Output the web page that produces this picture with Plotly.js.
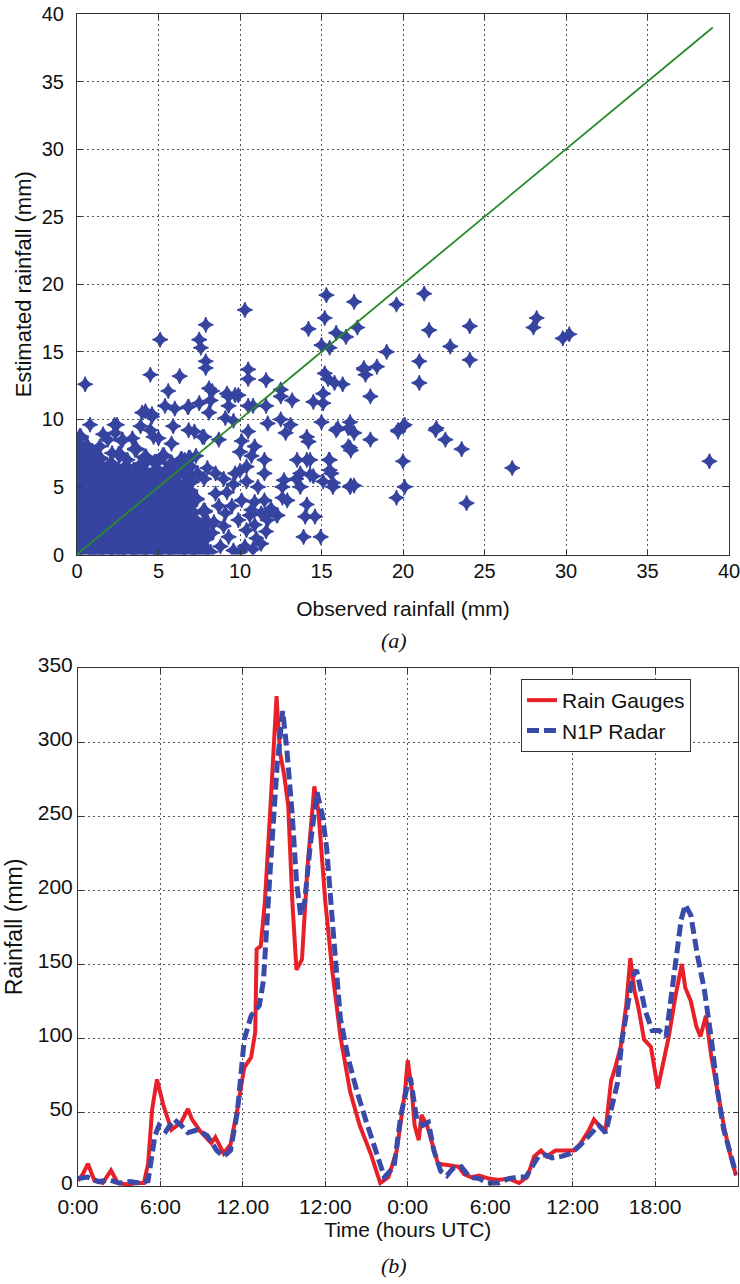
<!DOCTYPE html>
<html>
<head>
<meta charset="utf-8">
<script src="https://cdn.plot.ly/plotly-3.0.1.min.js"></script>
<style>html,body{margin:0;padding:0;background:#fff;}#chart{width:740px;height:1284px;}</style>
</head>
<body>
<div id="chart"></div>
<script>
// ---------- Panel (a): scatter, observed vs estimated rainfall (mm) ----------
// dense cluster near the origin (read row by row from the solid blob)
const clusterObs = [
  0.1,0.5,0.9,1.4,1.8,2.3,2.7,3.2,3.6,4.1,4.5,5.0,5.4,5.9,6.4,6.9,7.4,7.9,
  0.2,0.6,1.1,1.5,2.0,2.4,2.9,3.3,3.8,4.3,4.7,5.2,5.6,6.1,6.6,7.0,7.6,
  0.1,0.5,1.0,1.4,1.9,2.3,2.8,3.2,3.7,4.1,4.6,5.0,5.5,5.9,6.4,6.8,7.3,7.9,
  0.2,0.7,1.1,1.6,2.0,2.5,2.9,3.4,3.9,4.3,4.8,5.2,5.7,6.1,6.6,7.1,7.5,
  0.1,0.5,1.0,1.4,1.9,2.4,2.8,3.3,3.7,4.2,4.6,5.1,5.5,6.0,6.4,6.9,7.4,8.0,
  0.2,0.6,1.1,1.6,2.0,2.5,2.9,3.4,3.8,4.3,4.8,5.2,5.7,6.2,6.7,7.2,
  0.1,0.5,1.0,1.5,1.9,2.4,2.8,3.3,3.7,4.2,4.7,5.1,5.6,6.0,6.5,7.1,7.8,
  0.2,0.7,1.1,1.6,2.1,2.5,3.0,3.4,3.9,4.4,4.8,5.3,5.8,6.3,6.9,
  0.1,0.5,1.0,1.4,1.9,2.3,2.8,3.2,3.7,4.2,4.6,5.1,5.5,6.0,6.6,7.3,
  0.2,0.6,1.1,1.6,2.0,2.5,3.0,3.4,3.9,4.4,4.9,5.3,5.8,6.3,6.9,
  0.1,0.5,1.0,1.4,1.9,2.3,2.8,3.3,3.7,4.2,4.7,5.1,5.6,6.1,6.6,7.0,
  0.2,0.6,1.1,1.5,2.0,2.5,2.9,3.5,4.0,4.5,5.0,5.6,6.2,6.7,
  0.1,0.5,1.0,1.6,2.2,2.8,3.5,4.2,4.9,5.5,6.1,6.6,
  0.2,0.7,1.3,2.1,3.0,3.9,4.8,5.8,6.4,
  0.1,0.6,1.4,2.6,4.2,5.3,6.9,
  0.2,0.9,3.6,
  0.1,0.6,
  0.2
];
const clusterEst = [
  0.2,0.1,0.3,0.2,0.1,0.2,0.3,0.1,0.2,0.3,0.1,0.2,0.1,0.3,0.2,0.1,0.2,0.3,
  0.7,0.8,0.6,0.7,0.8,0.7,0.6,0.8,0.7,0.6,0.8,0.7,0.6,0.8,0.7,0.6,0.7,
  1.2,1.3,1.1,1.2,1.3,1.2,1.1,1.3,1.2,1.1,1.2,1.3,1.2,1.1,1.3,1.2,1.1,1.2,
  1.7,1.8,1.6,1.7,1.8,1.7,1.6,1.8,1.7,1.6,1.8,1.7,1.6,1.8,1.7,1.6,1.8,
  2.2,2.3,2.1,2.2,2.3,2.2,2.1,2.3,2.2,2.1,2.3,2.2,2.1,2.3,2.2,2.1,2.2,2.3,
  2.7,2.8,2.6,2.7,2.8,2.7,2.6,2.8,2.7,2.6,2.8,2.7,2.6,2.8,2.7,2.6,
  3.2,3.3,3.1,3.2,3.3,3.2,3.1,3.3,3.2,3.1,3.3,3.2,3.1,3.3,3.2,3.1,3.2,
  3.7,3.8,3.6,3.7,3.8,3.7,3.6,3.8,3.7,3.6,3.8,3.7,3.6,3.8,3.7,
  4.2,4.3,4.1,4.2,4.3,4.2,4.1,4.3,4.2,4.1,4.3,4.2,4.1,4.3,4.2,4.1,
  4.7,4.8,4.6,4.7,4.8,4.7,4.6,4.8,4.7,4.6,4.8,4.7,4.6,4.8,4.7,
  5.2,5.3,5.1,5.2,5.3,5.2,5.1,5.3,5.2,5.1,5.3,5.2,5.1,5.3,5.2,5.4,
  5.7,5.8,5.6,5.7,5.8,5.7,5.6,5.8,5.7,5.6,5.8,5.7,5.9,6.0,
  6.2,6.3,6.1,6.2,6.3,6.0,6.2,6.1,6.3,6.2,6.4,6.5,
  6.7,6.8,6.6,6.7,6.5,6.6,6.8,6.7,7.0,
  7.2,7.3,7.1,7.4,7.2,7.3,7.1,
  7.7,7.6,7.8,
  8.1,8.0,
  8.7
];
// scattered points outside the dense blob
const scatterObs = [
  0.5,5.1,7.9,7.5,7.6,7.9,7.9,4.5,6.3,5.6,8.1,10.3,9.2,9.7,4.0,4.6,5.4,6.0,6.8,7.5,9.1,9.6,10.5,
  0.8,0.15,2.3,1.6,1.9,2.8,3.9,4.5,4.7,5.9,7.2,7.7,8.7,10.5,10.1,10.0,10.9,11.5,10.7,10.4,9.7,11.5,12.7,12.6,
  8.2,9.9,9.3,10.8,11.6,10.5,10.5,11.6,12.5,12.5,13.2,11.7,12.5,13.1,12.8,14.1,14.2,15.0,15.9,16.75,17.0,16.75,18.0,
  19.7,20.1,20.0,20.1,19.6,22.0,15.5,15.5,13.5,14.1,13.7,14.5,15.1,15.7,16.75,17.0,13.7,12.6,14.1,14.0,14.6,13.9,14.95,11.6,12.25,
  15.3,17.0,21.3,19.6,14.2,15.2,15.9,16.5,17.2,21.6,15.0,15.5,19.0,21.0,21.0,17.6,18.4,17.7,15.2,15.4,15.8,16.3,18.0,15.1,15.1,14.5,
  28.2,28.0,29.8,30.2,24.1,22.9,24.1,22.05,22.6,23.6,23.9,26.7,38.8,20.0,19.7,17.6,
  10.0,10.4,10.1,10.7,9.9,10.4,10.3,11.1,11.5,11.3,11.7,12.3,8.5,9.1,8.3,9.3,8.8,9.5,8.5,8.4,8.7,9.2,9.6,9.0,8.2,9.6,10.0,9.0,10.9,11.0,
  12.9,13.45,14.3,14.3,15.45,15.6,15.7,16.8,16.0,16.65,16.65,16.8,
  6.6,7.0,7.4,7.8,7.3,8.0,6.9,10.8,11.3,11.6,10.6,11.9,10.9,
  4.2,4.6,6.85,8.3,8.1,9.3,2.45,3.4,5.0,5.8,6.85,7.8,1.4,2.15,3.1,4.0,2.76,2.35
];
const scatterEst = [
  12.6,15.9,17.0,15.9,15.3,14.3,13.8,13.3,13.2,12.1,12.3,18.1,11.9,11.8,10.5,10.4,11.0,10.8,10.9,11.2,10.1,9.9,11.0,
  9.6,8.7,9.6,8.9,8.5,8.5,9.5,9.2,8.7,9.5,9.1,8.7,8.5,9.1,8.4,7.6,8.0,7.0,7.3,6.5,6.0,6.0,5.5,5.0,
  11.4,11.8,11.0,11.0,11.0,13.7,13.0,12.9,12.2,11.7,11.4,9.7,10.0,9.6,9.0,8.7,8.35,9.8,9.2,9.8,9.0,7.9,8.5,
  9.2,9.6,6.9,5.0,4.2,9.2,7.0,6.25,7.0,7.0,6.0,5.8,5.4,5.0,5.0,5.1,5.0,4.2,3.7,2.8,2.8,1.3,1.3,2.9,2.9,
  19.2,18.7,19.3,18.5,16.7,17.5,16.4,16.1,16.8,16.6,15.5,15.3,15.0,14.3,12.7,13.8,13.9,13.3,13.4,13.0,12.7,12.6,11.7,11.9,11.2,11.3,
  17.5,16.8,16.0,16.3,16.9,15.4,14.4,9.35,8.5,7.8,3.8,6.4,6.9,9.5,9.1,13.7,
  6.2,5.4,4.0,3.3,2.55,1.8,0.6,5.0,4.0,3.05,2.55,2.9,4.5,3.05,1.6,1.3,0.6,3.6,6.0,2.4,3.6,4.6,5.2,5.6,0.2,0.3,0.2,2.1,2.2,1.2,
  4.0,5.6,7.0,5.9,7.0,6.0,5.3,5.1,9.35,9.35,8.0,7.7,
  7.0,6.5,6.0,5.6,7.3,6.4,5.8,0.4,0.8,1.7,2.9,3.4,3.9,
  10.6,10.2,10.95,12.1,10.5,11.7,9.6,8.6,8.6,8.2,9.2,8.7,8.0,7.5,7.0,6.75,8.4,9.0
];
// 1:1 reference line
const lineObs = [0, 39];
const lineEst = [0, 39];

// ---------- Panel (b): time series of rainfall (mm) ----------
const xTickVals = [0, 6, 12, 18, 24, 30, 36, 42];
const xTickText = ['0:00', '6:00', '12.00', '12:00', '0:00', '6:00', '12:00', '18:00'];

const gaugeHours = [
  0,0.35,0.72,1.2,1.8,2.4,2.9,3.6,4.3,4.8,
  5.1,5.4,5.75,6.2,6.8,7.5,8.0,8.3,8.9,9.7,
  10.0,10.6,11.1,11.6,12.1,12.6,12.9,13.0,13.3,13.6,
  14.0,14.45,14.7,15.0,15.3,15.6,15.9,16.3,16.7,17.2,
  17.5,18.0,18.5,19.1,19.8,20.5,21.3,22.0,22.6,23.2,
  23.8,24.0,24.3,24.5,24.8,25.0,25.4,25.75,26.2,27.0,
  27.7,28.1,28.6,29.2,29.9,30.6,31.35,32.1,32.7,33.2,
  33.7,34.1,34.75,35.5,36.1,36.6,37.2,37.55,37.9,38.4,
  38.8,39.1,39.5,39.9,40.2,40.5,40.8,41.2,41.7,42.2,
  42.5,43.0,43.5,43.95,44.2,44.6,45.0,45.3,45.7,46.1,
  46.55,47.0,47.5,47.9
];
const gaugeRain = [
  3.5,8,15,3.5,2,10.5,2,1,2,2,
  15,52,72,55,38,43,52,45,37,29,
  33,22,28,52,80,87,104,160,162,192,
  255,331,293,278,257,192,146,153,215,270,
  253,192,146,101,64,41,22,2,6,24,
  64,85,64,41,31,48,41,29,15,14,
  13,8,6,7,5,4,5,2,6,20,
  24,20,24,24,24,29,38,45,41,38,
  71,80,94,122,154,132,120,99,94,66,
  80,101,129,150,134,125,108,101,115,87,
  64,41,20,7
];
const radarHours = [
  0,0.7,1.5,2.3,3.0,3.8,4.5,5.1,5.6,5.9,
  6.4,7.0,7.5,8.0,8.7,9.4,10.1,10.6,11.1,11.6,
  12.1,12.6,13.2,13.5,14.0,14.5,14.9,15.2,15.6,15.9,
  16.2,16.5,16.9,17.4,17.8,18.1,18.6,19.1,19.7,20.3,
  21.0,21.7,22.3,23.0,23.5,24.0,24.2,24.65,25.1,25.5,
  25.9,26.4,26.85,27.3,27.9,28.5,29.2,29.8,30.6,31.35,
  31.95,32.6,33.05,33.5,34.0,34.5,35.2,35.85,36.5,36.9,
  37.4,37.9,38.4,38.9,39.25,39.6,40.0,40.35,40.65,41.0,
  41.3,41.8,42.3,42.8,43.1,43.5,43.9,44.2,44.6,45.1,
  45.6,46.1,46.55,47.0,47.5,47.9
];
const radarRain = [
  5,6,3,4,2,3,2,3.5,34,41,
  37,45,41,36,38,34,24,20,24,50,
  99,115,122,139,215,285,321,295,250,206,
  183,192,230,266,250,228,169,113,85,64,
  43,22,6,13,48,69,73,45,41,43,
  24,10,7,12,13,6,5,2,2,5,
  6,6,13,20,21,19,20,22,27,31,
  36,41,36,55,69,99,122,141,146,132,
  118,105,105,101,122,155,180,190,183,155,
  132,99,64,38,20,8
];

// ---------- layout geometry (pixels) ----------
const W = 740, H = 1284;
const A = {l: 77, r: 729, t: 14, b: 554.5};
const B = {l: 78, r: 737.5, t: 668, b: 1186};
const px = v => v / W, py = v => 1 - v / H;

const markerBlue = '#3644a0';
const clusterMarker = {symbol: 'star-diamond', size: 12, color: markerBlue, line: {color: markerBlue, width: 2.5}};
const starMarker = {symbol: 'star-diamond', size: 11, color: markerBlue, line: {color: markerBlue, width: 1.2}};

const traces = [
  {x: clusterObs, y: clusterEst, type: 'scatter', mode: 'markers', marker: clusterMarker, xaxis: 'x', yaxis: 'y', showlegend: false, hoverinfo: 'skip'},
  {x: scatterObs, y: scatterEst, type: 'scatter', mode: 'markers', marker: starMarker, xaxis: 'x', yaxis: 'y', showlegend: false, hoverinfo: 'skip'},
  {x: lineObs, y: lineEst, type: 'scatter', mode: 'lines', line: {color: '#2a8a2a', width: 1.8}, xaxis: 'x', yaxis: 'y', showlegend: false},
  {x: gaugeHours, y: gaugeRain, type: 'scatter', mode: 'lines', name: 'Rain Gauges', line: {color: '#e8202a', width: 4}, xaxis: 'x2', yaxis: 'y2'},
  {x: radarHours, y: radarRain, type: 'scatter', mode: 'lines', name: 'N1P Radar', line: {color: '#3a4aa8', width: 5, dash: '12px,5px'}, xaxis: 'x2', yaxis: 'y2'}
];

const axisCommon = {
  showline: true, linecolor: '#333', linewidth: 1, mirror: 'ticks',
  ticks: 'inside', ticklen: 5, tickcolor: '#333',
  showgrid: true, gridcolor: '#555', gridwidth: 1, griddash: '2px,3px',
  zeroline: false, fixedrange: true, ticklabeloverflow: 'allow'
};

const layout = {
  width: W, height: H,
  margin: {l: 0, r: 0, t: 0, b: 0},
  paper_bgcolor: '#fff', plot_bgcolor: '#fff',
  font: {family: 'Arial, "Liberation Sans", sans-serif', color: '#111'},
  showlegend: true,
  legend: {
    x: px(521), y: py(679), xanchor: 'left', yanchor: 'top',
    bgcolor: '#fff', bordercolor: '#333', borderwidth: 1,
    font: {size: 21, color: '#111'}, tracegroupgap: 0
  },
  xaxis: Object.assign({}, axisCommon, {
    domain: [px(A.l), px(A.r)], anchor: 'y', range: [0, 40],
    tickvals: [0, 5, 10, 15, 20, 25, 30, 35, 40], tickfont: {size: 20}, ticklabelstandoff: -2,
    title: {text: 'Observed rainfall (mm)', font: {size: 21}, standoff: 20}
  }),
  yaxis: Object.assign({}, axisCommon, {
    domain: [py(A.b), py(A.t)], anchor: 'x', range: [0, 40],
    tickvals: [0, 5, 10, 15, 20, 25, 30, 35, 40], tickfont: {size: 20}, ticklabelstandoff: 8,
    title: {text: 'Estimated rainfall (mm)', font: {size: 22}, standoff: 4}
  }),
  xaxis2: Object.assign({}, axisCommon, {
    domain: [px(B.l), px(B.r)], anchor: 'y2', range: [0, 48],
    tickvals: xTickVals, ticktext: xTickText, tickfont: {size: 21}, ticklabelstandoff: 2,
    title: {text: 'Time (hours UTC)', font: {size: 21}, standoff: 1}
  }),
  yaxis2: Object.assign({}, axisCommon, {
    domain: [py(B.b), py(B.t)], anchor: 'x2', range: [0, 350],
    tickvals: [0, 50, 100, 150, 200, 250, 300, 350], tickfont: {size: 21}, ticklabelshift: -3,
    title: {text: 'Rainfall (mm)', font: {size: 23}, standoff: 8}
  }),
  annotations: [
    {text: '<i>(a)</i>', xref: 'paper', yref: 'paper', x: px(394), y: py(640), xanchor: 'center', yanchor: 'middle', showarrow: false,
     font: {family: '"Liberation Serif", "Times New Roman", serif', size: 22, color: '#111'}},
    {text: '<i>(b)</i>', xref: 'paper', yref: 'paper', x: px(394), y: py(1265), xanchor: 'center', yanchor: 'middle', showarrow: false,
     font: {family: '"Liberation Serif", "Times New Roman", serif', size: 22, color: '#111'}}
  ]
};

Plotly.newPlot('chart', traces, layout, {staticPlot: true, displayModeBar: false});
</script>
</body>
</html>
